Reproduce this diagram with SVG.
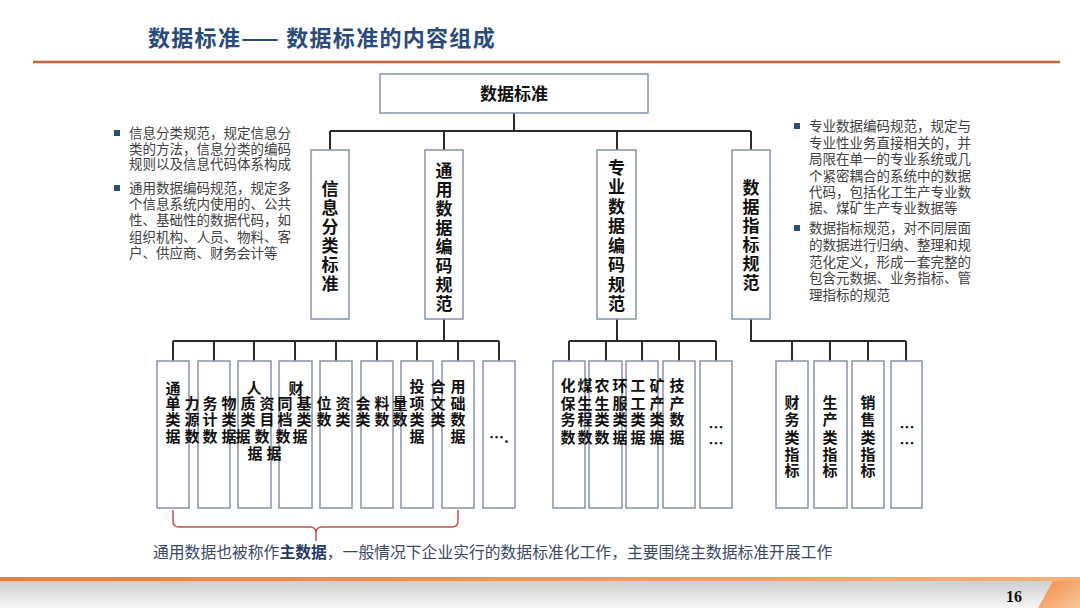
<svg xmlns="http://www.w3.org/2000/svg" width="1080" height="608" viewBox="0 0 1080 608">
<defs>
<linearGradient id="gband" x1="0" y1="0" x2="0" y2="1"><stop offset="0" stop-color="#cfcfcf"/><stop offset="1" stop-color="#f6f6f6"/></linearGradient>
<linearGradient id="gor" x1="0" y1="0" x2="1" y2="0"><stop offset="0" stop-color="#f07a3a"/><stop offset="1" stop-color="#f7b07a"/></linearGradient>
<linearGradient id="gcorner" x1="0" y1="0" x2="1" y2="1"><stop offset="0" stop-color="#f08a45"/><stop offset="1" stop-color="#fbc79a"/></linearGradient>
<style>
.box{fill:#fff;stroke:#8593a8;stroke-width:1.5}
.conn{fill:none;stroke:#2b2b2b;stroke-width:2}
.v1{font-family:"Noto Sans CJK SC","Noto Sans",sans-serif;font-size:17px;font-weight:bold;fill:#111;text-anchor:middle}
.v2{font-family:"Noto Sans CJK SC","Noto Sans",sans-serif;font-size:15px;font-weight:bold;fill:#111;text-anchor:middle}
.para{font-family:"Noto Sans CJK SC","Noto Sans",sans-serif;font-size:13.5px;fill:#404040}
.bul{fill:#2e4a78}
</style>
</defs>
<rect width="1080" height="608" fill="#fff"/>
<!-- header -->
<text x="148" y="46" font-family="'Noto Sans CJK SC',sans-serif" font-size="22" font-weight="bold" fill="#2a4a7c" letter-spacing="1.3">数据标准—— 数据标准的内容组成</text>
<line x1="33" y1="62" x2="1060" y2="62" stroke="#c8643a" stroke-width="2.5"/>
<!-- footer -->
<rect x="0" y="581" width="1080" height="27" fill="url(#gband)"/>
<rect x="0" y="577" width="1080" height="4" fill="url(#gor)"/>
<polygon points="1053,581 1080,581 1080,608 1038,608" fill="url(#gcorner)"/>
<text x="1014" y="602" font-family="'Liberation Serif',serif" font-size="16" font-weight="bold" fill="#111" text-anchor="middle">16</text>

<!-- connectors -->
<g id="connectors" class="conn">
<path d="M514 113 V131 M330 131 H751 M330 131 V150 M444 131 V150 M617 131 V150 M751 131 V150"/>
<path d="M444 319 V341 M173 341 H499 M173 341 V361 M214 341 V361 M254 341 V361 M295 341 V361 M336 341 V361 M377 341 V361 M417 341 V361 M458 341 V361 M499 341 V361"/>
<path d="M617 319 V341 M569 341 H716 M569 341 V361 M606 341 V361 M642 341 V361 M679 341 V361 M716 341 V361"/>
<path d="M751 319 V341 H906 M792 341 V361 M830 341 V361 M868 341 V361 M906 341 V361"/>
</g>

<!-- root -->
<g id="n-root">
<rect class="box" x="380" y="74" width="268" height="39"/>
<text x="514" y="99.5" font-family="'Noto Sans CJK SC',sans-serif" font-size="17" font-weight="bold" fill="#111" text-anchor="middle">数据标准</text>
</g>

<!-- level 1 -->
<g id="n-info">
<rect class="box" x="311" y="150" width="38" height="169"/>
<text class="v1" x="330" y="194.5">信</text><text class="v1" x="330" y="213.5">息</text><text class="v1" x="330" y="232.5">分</text><text class="v1" x="330" y="251.5">类</text><text class="v1" x="330" y="270.5">标</text><text class="v1" x="330" y="289.5">准</text>
</g>
<g id="n-general">
<rect class="box" x="425" y="150" width="38" height="169"/>
<text class="v1" x="444" y="176.5">通</text><text class="v1" x="444" y="195.5">用</text><text class="v1" x="444" y="214.5">数</text><text class="v1" x="444" y="233.5">据</text><text class="v1" x="444" y="252.5">编</text><text class="v1" x="444" y="271.5">码</text><text class="v1" x="444" y="290.5">规</text><text class="v1" x="444" y="309.5">范</text>
</g>
<g id="n-special">
<rect class="box" x="597" y="150" width="39" height="169"/>
<text class="v1" x="616.5" y="173.5">专</text><text class="v1" x="616.5" y="193">业</text><text class="v1" x="616.5" y="212.5">数</text><text class="v1" x="616.5" y="232">据</text><text class="v1" x="616.5" y="251.5">编</text><text class="v1" x="616.5" y="271">码</text><text class="v1" x="616.5" y="290.5">规</text><text class="v1" x="616.5" y="310">范</text>
</g>
<g id="n-index">
<rect class="box" x="732" y="150" width="38" height="169"/>
<text class="v1" x="751" y="193.5">数</text><text class="v1" x="751" y="212.5">据</text><text class="v1" x="751" y="231.5">指</text><text class="v1" x="751" y="250.5">标</text><text class="v1" x="751" y="269.5">规</text><text class="v1" x="751" y="288.5">范</text>
</g>

<!-- left group leaves -->
<g id="n-g1"><rect class="box" x="157" y="361" width="32" height="147"/></g>
<g id="n-g2"><rect class="box" x="198" y="361" width="32" height="147"/></g>
<g id="n-g3"><rect class="box" x="238" y="361" width="33" height="147"/></g>
<g id="n-g4"><rect class="box" x="279" y="361" width="33" height="147"/></g>
<g id="n-g5"><rect class="box" x="320" y="361" width="32" height="147"/></g>
<g id="n-g6"><rect class="box" x="361" y="361" width="32" height="147"/></g>
<g id="n-g7"><rect class="box" x="401" y="361" width="32" height="147"/></g>
<g id="n-g8"><rect class="box" x="442" y="361" width="32" height="147"/></g>
<g id="n-g9"><rect class="box" x="483" y="361" width="32" height="147"/>
<text class="v2" x="499" y="443">….</text></g>
<g id="g-left-text">
<text class="v2" x="173" y="394">通</text><text class="v2" x="173" y="409">单</text><text class="v2" x="173" y="425">类</text><text class="v2" x="173" y="442">据</text>
<text class="v2" x="192" y="409">力</text><text class="v2" x="192" y="425">源</text><text class="v2" x="192" y="442">数</text>
<text class="v2" x="210" y="409">务</text><text class="v2" x="210" y="425">计</text><text class="v2" x="210" y="442">数</text>
<text class="v2" x="229" y="409">物</text><text class="v2" x="229" y="425">类</text><text class="v2" x="229" y="442">据</text>
<text class="v2" x="254" y="394">人</text><text class="v2" x="248" y="409">质</text><text class="v2" x="248" y="425">类</text><text class="v2" x="243" y="442">据</text><text class="v2" x="255" y="459">据</text>
<text class="v2" x="267" y="409">资</text><text class="v2" x="267" y="425">目</text><text class="v2" x="262" y="442">数</text><text class="v2" x="274" y="459">据</text>
<text class="v2" x="296" y="394">财</text><text class="v2" x="285" y="409">同</text><text class="v2" x="285" y="425">档</text><text class="v2" x="283" y="442">数</text>
<text class="v2" x="304" y="409">基</text><text class="v2" x="304" y="425">类</text><text class="v2" x="300" y="442">据</text>
<text class="v2" x="324" y="409">位</text><text class="v2" x="324" y="425">数</text>
<text class="v2" x="343" y="409">资</text><text class="v2" x="343" y="425">类</text>
<text class="v2" x="363" y="409">会</text><text class="v2" x="363" y="425">类</text>
<text class="v2" x="382" y="409">料</text><text class="v2" x="382" y="425">数</text>
<text class="v2" x="400" y="409">量</text><text class="v2" x="400" y="425">数</text>
<text class="v2" x="417" y="392">投</text><text class="v2" x="417" y="409">项</text><text class="v2" x="417" y="425">类</text><text class="v2" x="417" y="442">据</text>
<text class="v2" x="438" y="392">合</text><text class="v2" x="438" y="409">文</text><text class="v2" x="438" y="425">类</text>
<text class="v2" x="458" y="392">用</text><text class="v2" x="458" y="409">础</text><text class="v2" x="458" y="425">数</text><text class="v2" x="458" y="442">据</text>
</g>

<!-- middle group leaves -->
<g id="n-s1"><rect class="box" x="553" y="361" width="32" height="147"/></g>
<g id="n-s2"><rect class="box" x="589" y="361" width="33" height="147"/></g>
<g id="n-s3"><rect class="box" x="626" y="361" width="32" height="147"/></g>
<g id="n-s4"><rect class="box" x="663" y="361" width="32" height="147"/></g>
<g id="n-s5"><rect class="box" x="700" y="361" width="32" height="147"/>
<text class="v2" x="716" y="433">…</text><text class="v2" x="716" y="449">…</text></g>
<g id="g-mid-text">
<text class="v2" x="568" y="391">化</text><text class="v2" x="568" y="409">保</text><text class="v2" x="568" y="425">务</text><text class="v2" x="568" y="443">数</text>
<text class="v2" x="585" y="391">煤</text><text class="v2" x="585" y="409">生</text><text class="v2" x="585" y="425">程</text><text class="v2" x="585" y="443">数</text>
<text class="v2" x="602" y="391">农</text><text class="v2" x="602" y="409">生</text><text class="v2" x="602" y="425">类</text><text class="v2" x="602" y="443">数</text>
<text class="v2" x="620" y="391">环</text><text class="v2" x="620" y="409">服</text><text class="v2" x="620" y="425">类</text><text class="v2" x="620" y="443">据</text>
<text class="v2" x="638" y="391">工</text><text class="v2" x="638" y="409">工</text><text class="v2" x="638" y="425">类</text><text class="v2" x="638" y="443">据</text>
<text class="v2" x="657" y="391">矿</text><text class="v2" x="657" y="409">产</text><text class="v2" x="657" y="425">类</text><text class="v2" x="657" y="443">据</text>
<text class="v2" x="677" y="391">技</text><text class="v2" x="677" y="409">产</text><text class="v2" x="677" y="425">数</text><text class="v2" x="677" y="443">据</text>
</g>

<!-- right group leaves -->
<g id="n-i1"><rect class="box" x="776" y="361" width="32" height="147"/>
<text class="v2" x="792" y="408">财</text><text class="v2" x="792" y="425">务</text><text class="v2" x="792" y="443">类</text><text class="v2" x="792" y="460">指</text><text class="v2" x="792" y="476">标</text></g>
<g id="n-i2"><rect class="box" x="814" y="361" width="33" height="147"/>
<text class="v2" x="830" y="408">生</text><text class="v2" x="830" y="425">产</text><text class="v2" x="830" y="443">类</text><text class="v2" x="830" y="460">指</text><text class="v2" x="830" y="476">标</text></g>
<g id="n-i3"><rect class="box" x="852" y="361" width="32" height="147"/>
<text class="v2" x="868" y="408">销</text><text class="v2" x="868" y="425">售</text><text class="v2" x="868" y="443">类</text><text class="v2" x="868" y="460">指</text><text class="v2" x="868" y="476">标</text></g>
<g id="n-i4"><rect class="box" x="891" y="361" width="31" height="147"/>
<text class="v2" x="907" y="433">…</text><text class="v2" x="907" y="449">…</text></g>

<!-- left notes -->
<g id="note-left">
<rect class="bul" x="114" y="130" width="6" height="6"/>
<rect class="bul" x="114" y="185" width="6" height="6"/>
<text class="para" x="129" y="138">信息分类规范，规定信息分</text>
<text class="para" x="129" y="153.5">类的方法，信息分类的编码</text>
<text class="para" x="129" y="169">规则以及信息代码体系构成</text>
<text class="para" x="129" y="193">通用数据编码规范，规定多</text>
<text class="para" x="129" y="209">个信息系统内使用的、公共</text>
<text class="para" x="129" y="225">性、基础性的数据代码，如</text>
<text class="para" x="129" y="241.5">组织机构、人员、物料、客</text>
<text class="para" x="129" y="258">户、供应商、财务会计等</text>
</g>

<!-- right notes -->
<g id="note-right">
<rect class="bul" x="794" y="123" width="6" height="6"/>
<rect class="bul" x="794" y="225" width="6" height="6"/>
<text class="para" x="809" y="131">专业数据编码规范，规定与</text>
<text class="para" x="809" y="147.5">专业性业务直接相关的，并</text>
<text class="para" x="809" y="164">局限在单一的专业系统或几</text>
<text class="para" x="809" y="180.5">个紧密耦合的系统中的数据</text>
<text class="para" x="809" y="197">代码，包括化工生产专业数</text>
<text class="para" x="809" y="213">据、煤矿生产专业数据等</text>
<text class="para" x="809" y="233">数据指标规范，对不同层面</text>
<text class="para" x="809" y="250">的数据进行归纳、整理和规</text>
<text class="para" x="809" y="266.5">范化定义，形成一套完整的</text>
<text class="para" x="809" y="283">包含元数据、业务指标、管</text>
<text class="para" x="809" y="299.5">理指标的规范</text>
</g>

<!-- brace and note -->
<g id="brace">
<path d="M173 510 V521 Q173 527 179 527 H310 Q316 527 316 533 V541 M316 533 Q316 527 322 527 H452 Q458 527 458 521 V510" fill="none" stroke="#c0504d" stroke-width="1.5"/>
</g>
<g id="note-bottom">
<text x="153" y="558" font-family="'Noto Sans CJK SC',sans-serif" font-size="15.8" fill="#3b4866">通用数据也被称作<tspan font-weight="bold" fill="#1f3864">主数据</tspan>，一般情况下企业实行的数据标准化工作，主要围绕主数据标准开展工作</text>
</g>
</svg>
